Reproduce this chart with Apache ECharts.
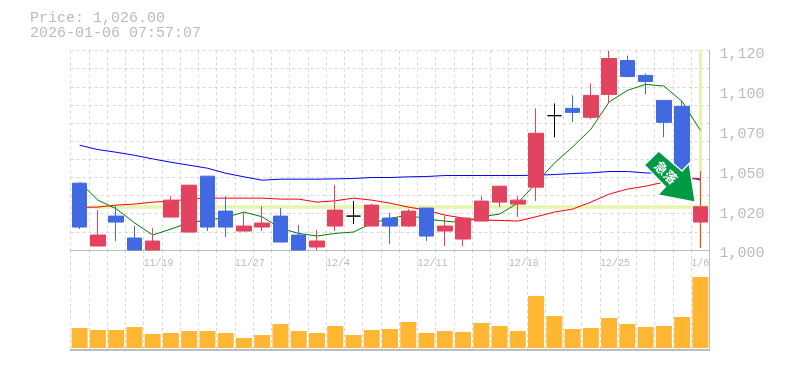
<!DOCTYPE html>
<html><head><meta charset="utf-8">
<style>html,body{margin:0;padding:0;background:#fff}#c{width:785px;height:370px}</style>
<script src="https://cdn.jsdelivr.net/npm/echarts@6/dist/echarts.min.js"></script>
</head><body><div id="c"></div>
<script>
const categories=['11/13','11/14','11/17','11/18','11/19','11/20','11/21','11/25','11/26','11/27','11/28','12/1','12/2','12/3','12/4','12/5','12/8','12/9','12/10','12/11','12/12','12/15','12/16','12/17','12/18','12/19','12/22','12/23','12/24','12/25','12/26','12/29','12/30','1/5','1/6'];
const shownDates=['11/19','11/27','12/4','12/11','12/18','12/25','1/6'];
const priceTicks=['1,000','1,020','1,050','1,070','1,100','1,120'];
const opens=[1040.2,1002.4,1020.4,1007.2,1000,1019.8,1010.8,1044.4,1023.4,1011.4,1013.8,1020.4,1009,1001.8,1014.4,1020.4,1014.4,1019.2,1014.4,1025.2,1011.4,1006.6,1017.4,1028.8,1027.6,1037.8,1080.8,1085.2,1079.8,1093.6,1114,1105,1090,1086.4,1016.8];
const closes=[1013.8,1009,1016.8,1000,1005.4,1030,1039,1013.8,1013.8,1014.4,1016.2,1004.8,1000,1005.4,1024,1020.4,1027,1014.4,1023.4,1008.4,1014.4,1019.2,1029.4,1038.4,1030,1070.2,1080.8,1082.8,1093,1115.2,1104.4,1101.4,1076.8,1048,1026];
const lows=[1012.6,1002.4,1005.4,1000,1000,1019.8,1010.8,1011.4,1007.8,1011.4,1011.4,1004.8,1000,1000,1011.4,1015.6,1014.4,1003.6,1013.8,1005.4,1002.4,1002.4,1017.4,1025.8,1019.8,1029.4,1067.8,1076.8,1078.6,1088.8,1103.8,1093.6,1067.8,1048,1001.2];
const highs=[1040.2,1024,1026.4,1014.4,1013.2,1032.4,1039,1044.4,1032.4,1022.2,1026.4,1025.2,1015,1012,1039,1029.4,1027.8,1022.2,1024.6,1025.2,1020.4,1019.2,1032.4,1038.4,1032.4,1085.2,1088.2,1093,1100.2,1120,1117,1106.2,1090,1090,1047.4];
const maShort=[1040.8,1030,1024.8,1016.4,1009,1012.6,1016.4,1018,1019.6,1022.8,1020,1013,1010,1008.4,1010,1010.8,1016,1019,1021,1018.6,1017.4,1016.4,1020,1021.6,1028.2,1040.2,1052.2,1062,1072.6,1089,1096,1099.6,1098.6,1089.4,1072];
const maMid=[1025.6,1025.8,1027,1027.6,1028.8,1029.4,1030.6,1031.2,1031.2,1031.2,1031.2,1030.6,1030.6,1028.8,1029.6,1031.2,1030,1028.2,1025.8,1024,1021,1019.2,1018,1017.8,1017.4,1020,1022.8,1024.6,1028.8,1033.6,1036.6,1038.4,1040.8,1042,1043.2];
const maLong=[1063,1060.4,1058.8,1057,1054.8,1052.8,1051,1049.2,1046.2,1044,1042,1042.6,1042.6,1042.6,1042.8,1043,1043.6,1043.6,1044,1044.2,1044.8,1044.8,1044.8,1044.8,1044.8,1045,1045.4,1046,1046.4,1047.2,1047.2,1046.4,1046,1045,1042];
const volumes=[20,18,18,21,14,15,17,17,15,10,13,24,17,15,22,13,18,19,26,15,17,16,25,22,17,52,32,19,20,30,24,21,22,31,71];
const lastPrice=1026;
const priceLine='Price: 1,026.00';
const stampLine='2026-01-06 07:57:07';
const signalText='急落';

const RED='#E2435F',BLUE='#4169E1',GRID='#d8d8d8',AX='#bdbdbd',MONO='"Liberation Mono",monospace';
const candles=categories.map((c,i)=>{
  const col=opens[i]===closes[i]?'#000':(closes[i]>opens[i]?RED:BLUE);
  return {value:[opens[i],closes[i],lows[i],highs[i]],itemStyle:{color:col,color0:col,borderColor:col,borderColor0:col,borderColorDoji:col}};
});
const edgeAxisData=categories.concat(['']);
const dash={type:[3,3],color:GRID,width:1};
const line=(name,data,color)=>({name,type:'line',data,xAxisIndex:0,yAxisIndex:0,symbol:'none',silent:true,z:3,lineStyle:{color,width:1},itemStyle:{color},animation:false});
const chart=echarts.init(document.getElementById('c'),null,{renderer:'canvas'});
chart.setOption({
  animation:false,backgroundColor:'#fff',
  title:[{text:priceLine+'\n'+stampLine,left:30,top:11,padding:0,textStyle:{fontFamily:MONO,fontSize:15,fontWeight:'normal',color:'#bbb',lineHeight:15}}],
  grid:[{left:70.5,right:75.5,top:50.5,height:199.5},{left:70.5,right:75.5,top:250,height:100}],
  xAxis:[
    {type:'category',gridIndex:0,data:categories,boundaryGap:true,axisLine:{show:false},axisTick:{show:false},axisLabel:{show:false},splitLine:{show:false}},
    {type:'category',gridIndex:0,data:edgeAxisData,boundaryGap:false,position:'bottom',axisLine:{show:true,onZero:false,lineStyle:{color:AX,width:1}},axisTick:{show:false},
     axisLabel:{show:true,interval:0,align:'left',margin:8,hideOverlap:false,color:'#bbb',fontFamily:MONO,fontSize:10,formatter:v=>shownDates.includes(v)?v:''},
     splitLine:{show:true,interval:0,lineStyle:dash}},
    {type:'category',gridIndex:1,data:categories,boundaryGap:true,axisLine:{show:true,onZero:false,lineStyle:{color:AX,width:2}},axisTick:{show:false},axisLabel:{show:false},splitLine:{show:false}},
    {type:'category',gridIndex:1,data:edgeAxisData,boundaryGap:false,axisLine:{show:false},axisTick:{show:false},axisLabel:{show:false},splitLine:{show:true,interval:0,lineStyle:dash}}
  ],
  yAxis:[
    {type:'value',gridIndex:0,min:1000,max:1120,interval:24,position:'right',axisLine:{show:true,lineStyle:{color:AX,width:1}},axisTick:{show:false},splitLine:{show:false},
     axisLabel:{margin:10,color:'#bbb',fontFamily:MONO,fontSize:15,verticalAlign:'top',lineHeight:7,formatter:v=>priceTicks[Math.round((v-1000)/24)]}},
    {type:'value',gridIndex:0,min:0,max:11,interval:1,position:'left',axisLine:{show:false},axisTick:{show:false},axisLabel:{show:false},splitLine:{show:true,lineStyle:dash}},
    {type:'value',gridIndex:1,min:-2,max:98,position:'right',axisLine:{show:true,onZero:false,lineStyle:{color:AX,width:1}},axisTick:{show:false},axisLabel:{show:false},splitLine:{show:false}}
  ],
  series:[
    {name:'bands',type:'line',data:[],xAxisIndex:0,yAxisIndex:0,silent:true,z:1,
     markLine:{z:1,silent:true,symbol:'none',label:{show:false},animation:false,data:[
       {yAxis:lastPrice,lineStyle:{color:'#E4F5AE',width:3.5,type:'solid'}},
       [{coord:[categories[34],1001.5],lineStyle:{color:'#E4F5AE',width:3,type:'solid'}},{coord:[categories[34],1120]}]
     ]}},
    line('maLong',maLong,'#0000ff'),
    line('maMid',maMid,'#ff0000'),
    line('maShort',maShort,'#008000'),
    {name:'price',type:'candlestick',data:candles,xAxisIndex:0,yAxisIndex:0,barWidth:15,silent:true,z:4,clip:true},
    {name:'volume',type:'bar',data:volumes,xAxisIndex:2,yAxisIndex:2,barWidth:16,silent:true,itemStyle:{color:'#FFB733'},z:2}
  ],
  graphic:[
    {type:'polygon',z:20,shape:{points:[[658.7,151],[644.3,165],[665.3,186.7],[657.7,195],[695.3,202.3],[689.3,163.3],[682,171]]},style:{fill:'#009944',stroke:'#fff',lineWidth:1.5}},
    {type:'text',z:21,x:666,y:172.5,rotation:-Math.PI/4,style:{text:signalText,fill:'#fff',font:'bold 13px "Noto Sans CJK JP"',align:'center',verticalAlign:'middle'}}
  ]
});
</script></body></html>
